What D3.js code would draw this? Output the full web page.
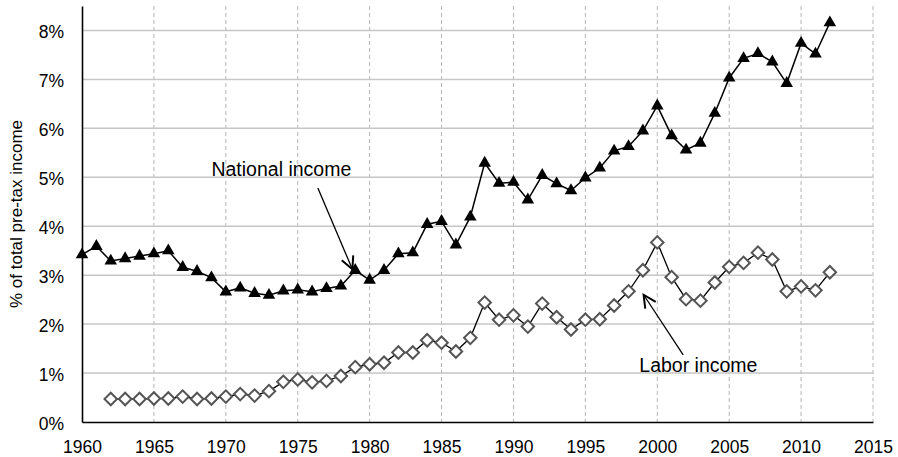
<!DOCTYPE html>
<html>
<head>
<meta charset="utf-8">
<script src="https://cdn.jsdelivr.net/npm/d3@7"></script>
<style>
  body { margin: 0; background: #fff; }
  svg text { font-family: "Liberation Sans", Arial, sans-serif; fill: #000; }
  .hgrid { stroke: #c6c6c6; stroke-width: 1.5; }
  .vgrid { stroke: #b4b4b4; stroke-width: 1; stroke-dasharray: 4,3; }
</style>
</head>
<body>
<div id="chart"></div>
<script>
// years and series (% of total pre-tax income)
var years = d3.range( 1960, 2013 );
var nationalIncome = [
    3.42, 3.59, 3.29, 3.34, 3.39, 3.44, 3.50, 3.16, 3.08, 2.95,
    2.66, 2.74, 2.63, 2.59, 2.68, 2.70, 2.66, 2.73, 2.78, 3.10,
    2.90, 3.10, 3.44, 3.46, 4.04, 4.10, 3.62, 4.19, 5.29, 4.88,
    4.90, 4.54, 5.04, 4.87, 4.73, 4.99, 5.19, 5.54, 5.63, 5.95,
    6.46, 5.85, 5.56, 5.70, 6.31, 7.03, 7.43, 7.53, 7.36, 6.92,
    7.74, 7.52, 8.16
];
var laborYears = d3.range( 1962, 2013 );
var laborIncome = [
    0.47, 0.47, 0.47, 0.48, 0.48, 0.52, 0.47, 0.48,
    0.52, 0.57, 0.54, 0.63, 0.82, 0.87, 0.81, 0.84, 0.94, 1.12,
    1.18, 1.21, 1.42, 1.42, 1.67, 1.62, 1.44, 1.72, 2.44, 2.09,
    2.18, 1.95, 2.42, 2.14, 1.89, 2.09, 2.10, 2.38, 2.67, 3.10,
    3.67, 2.96, 2.51, 2.48, 2.85, 3.17, 3.25, 3.46, 3.32, 2.67,
    2.77, 2.69, 3.06
];
var xTicks = d3.range( 1960, 2016, 5 );
var yTicks = d3.range( 0, 9 );

var width = 898;
var height = 457;

var svg = d3.select( "#chart" ).append( "svg" )
    .attr( "width", width )
    .attr( "height", height );

var x = d3.scaleLinear().domain( [ 1960, 2015 ] ).range( [ 82, 873 ] );
var y = d3.scaleLinear().domain( [ 0, 8.5 ] ).range( [ 422, 6 ] );

// arrow head
svg.append( "defs" ).append( "marker" )
    .attr( "id", "arrow" )
    .attr( "markerUnits", "userSpaceOnUse" )
    .attr( "markerWidth", 20 )
    .attr( "markerHeight", 20 )
    .attr( "viewBox", "-12 -8 14 16" )
    .attr( "refX", 0 )
    .attr( "refY", 0 )
    .attr( "orient", "auto" )
    .append( "path" )
    .attr( "d", "M-10,-5L0,0L-10,5" )
    .attr( "fill", "none" )
    .attr( "stroke", "#000" )
    .attr( "stroke-width", 1.6 );

// grid
var grid = svg.append( "g" );
grid.selectAll( "line.vgrid" )
    .data( xTicks.slice( 1 ) )
    .enter().append( "line" )
    .attr( "class", "vgrid" )
    .attr( "x1", function( d ) { return x( d ); })
    .attr( "x2", function( d ) { return x( d ); })
    .attr( "y1", y( 8.5 ) )
    .attr( "y2", y( 0 ) );

grid.selectAll( "line.hgrid" )
    .data( yTicks.slice( 1 ) )
    .enter().append( "line" )
    .attr( "class", "hgrid" )
    .attr( "x1", x( 1960 ) )
    .attr( "x2", x( 2015 ) )
    .attr( "y1", function( d ) { return y( d ); })
    .attr( "y2", function( d ) { return y( d ); });

// axes
var yAxis = svg.append( "g" )
    .attr( "transform", "translate(" + x( 1960 ) + ",0)" )
    .call( d3.axisLeft( y ).tickValues( yTicks ).tickSize( 0 ).tickPadding( 18 )
        .tickFormat( function( d ) { return d + "%"; }) );
yAxis.select( ".domain" ).attr( "stroke", "#000" ).attr( "stroke-width", 1.6 );
yAxis.selectAll( "text" ).style( "font-size", "17.5px" ).attr( "dy", "0.42em" );

var xAxis = svg.append( "g" )
    .attr( "transform", "translate(0," + y( 0 ) + ")" )
    .call( d3.axisBottom( x ).tickValues( xTicks ).tickSize( 0 ).tickPadding( 19 )
        .tickFormat( d3.format( "d" ) ) );
xAxis.select( ".domain" ).attr( "stroke", "#000" ).attr( "stroke-width", 1.6 );
xAxis.selectAll( "text" ).style( "font-size", "17.5px" );

svg.append( "text" )
    .attr( "transform", "translate(22," + 214 + ") rotate(-90)" )
    .attr( "text-anchor", "middle" )
    .style( "font-size", "17px" )
    .text( "% of total pre-tax income" );

// series
var national = years.map( function( d, i ) { return { year: d, value: nationalIncome[ i ] }; });
var labor = laborYears.map( function( d, i ) { return { year: d, value: laborIncome[ i ] }; });

var line = d3.line()
    .x( function( d ) { return x( d.year ); })
    .y( function( d ) { return y( d.value ); });

svg.append( "path" ).datum( labor )
    .attr( "d", line )
    .attr( "fill", "none" )
    .attr( "stroke", "#000" )
    .attr( "stroke-width", 1.3 );

svg.append( "path" ).datum( national )
    .attr( "d", line )
    .attr( "fill", "none" )
    .attr( "stroke", "#000" )
    .attr( "stroke-width", 1.5 );

svg.selectAll( "path.diamond" )
    .data( labor )
    .enter().append( "path" )
    .attr( "class", "diamond" )
    .attr( "d", d3.symbol().type( d3.symbolSquare ).size( 78 ) )
    .attr( "transform", function( d ) { return "translate(" + x( d.year ) + "," + y( d.value ) + ") rotate(45)"; })
    .attr( "fill", "#fff" )
    .attr( "stroke", "#555" )
    .attr( "stroke-width", 2 );

svg.selectAll( "path.triangle" )
    .data( national )
    .enter().append( "path" )
    .attr( "class", "triangle" )
    .attr( "d", d3.symbol().type( d3.symbolTriangle ).size( 68 ) )
    .attr( "transform", function( d ) { return "translate(" + x( d.year ) + "," + y( d.value ) + ")"; })
    .attr( "fill", "#000" );

// annotations
svg.append( "text" )
    .attr( "x", x( 1969.0 ) )
    .attr( "y", y( 5.02 ) )
    .style( "font-size", "19.5px" )
    .text( "National income" );
svg.append( "line" )
    .attr( "x1", x( 1976.4 ) ).attr( "y1", y( 4.78 ) )
    .attr( "x2", x( 1978.8 ) ).attr( "y2", y( 3.12 ) )
    .attr( "stroke", "#000" ).attr( "stroke-width", 1.3 )
    .attr( "marker-end", "url(#arrow)" );

svg.append( "text" )
    .attr( "x", x( 1998.75 ) )
    .attr( "y", y( 1.02 ) )
    .style( "font-size", "19.5px" )
    .text( "Labor income" );
svg.append( "line" )
    .attr( "x1", x( 2001.8 ) ).attr( "y1", y( 1.37 ) )
    .attr( "x2", x( 1999.05 ) ).attr( "y2", y( 2.6 ) )
    .attr( "stroke", "#000" ).attr( "stroke-width", 1.3 )
    .attr( "marker-end", "url(#arrow)" );
</script>
</body>
</html>
